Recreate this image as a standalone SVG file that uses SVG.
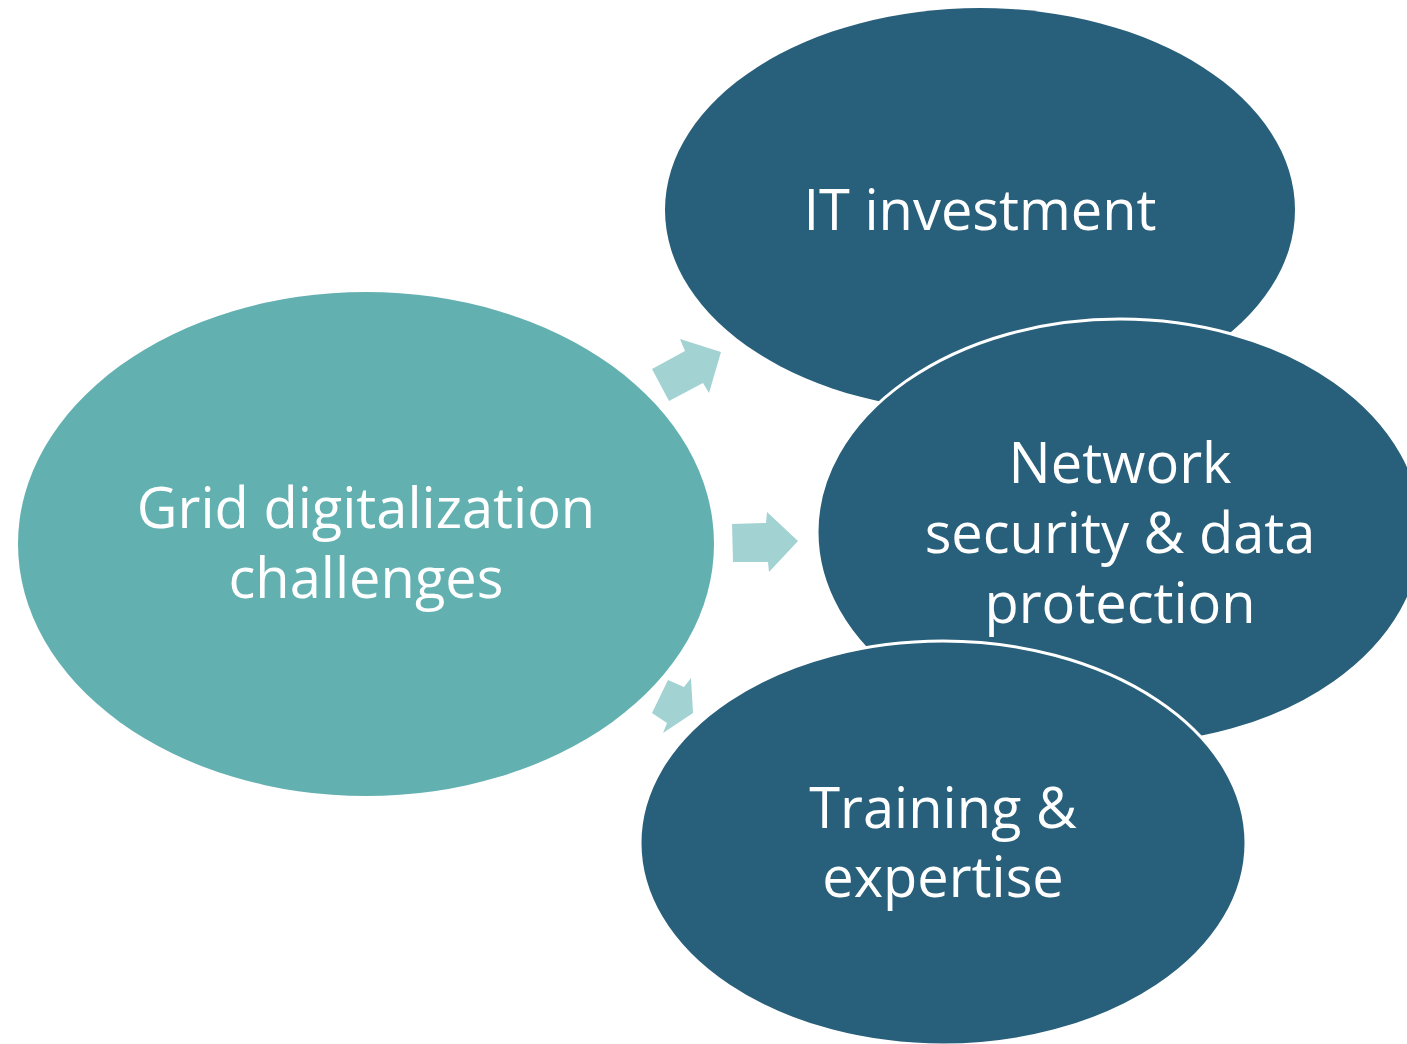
<svg xmlns="http://www.w3.org/2000/svg" width="1407" height="1044" viewBox="0 0 1407 1044">
<style>
.t{font-family:"Open Sans","Noto Sans",sans-serif;font-size:56px;fill:#fff;text-anchor:middle}
.dark{fill:#285F7A}
.ring{stroke:#fff;stroke-width:3}
.arr{fill:#A3D2D3}
</style>
<rect width="1407" height="1044" fill="#fff"/>
<g id="center">
<ellipse cx="366" cy="544" rx="348" ry="252" fill="#63B0B1"/>
<text class="t" x="366" y="528">Grid digitalization</text>
<text class="t" x="366" y="598">challenges</text>
</g>
<g id="connectors">
<polygon class="arr" points="652,369 685,351 680,339 721,352 709,393 703,383 669,401"/>
<polygon class="arr" points="732,524 766,523 767,512 798,541 769,572 768,562 733,562"/>
<polygon class="arr" points="668,680 684,687 691,678 693,713 663,733 667,723 652,713"/>
</g>
<g id="it">
<ellipse class="dark" cx="980" cy="210" rx="315" ry="202"/>
<text class="t" x="980" y="230">IT investment</text>
</g>
<g id="network">
<ellipse class="dark ring" cx="1120" cy="532" rx="303" ry="213"/>
<text class="t" x="1120" y="483">Network</text>
<text class="t" x="1120" y="553">security &amp; data</text>
<text class="t" x="1120" y="623">protection</text>
</g>
<g id="training">
<ellipse class="dark ring" cx="943" cy="843" rx="303" ry="202"/>
<text class="t" x="943" y="828">Training &amp;</text>
<text class="t" x="943" y="897">expertise</text>
</g>
</svg>
